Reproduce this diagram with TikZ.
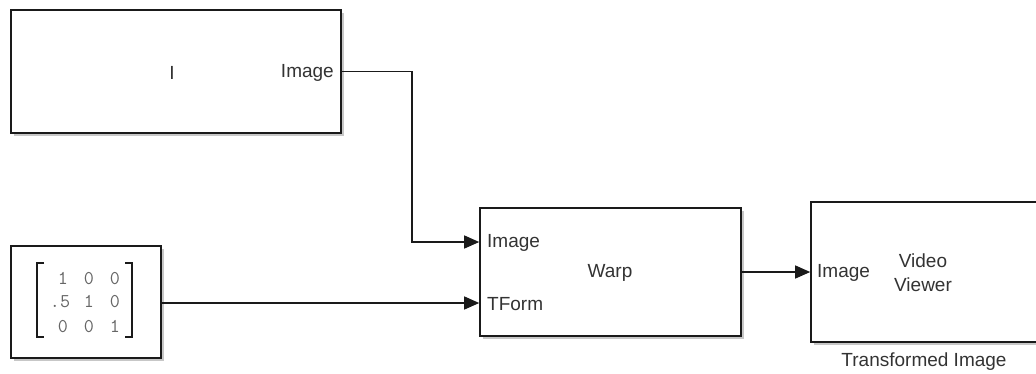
\documentclass[tikz,border=0pt]{standalone}
\usepackage{fontspec}
\setmainfont{Liberation Sans}
\usetikzlibrary{arrows.meta,shadows,calc}
\definecolor{txt}{HTML}{333333}
\definecolor{mtx}{HTML}{666666}
\definecolor{edge}{HTML}{1A1A1A}
\begin{document}
\begin{tikzpicture}[x=1pt,y=-1pt,
  blk/.style={draw=edge,line width=1.6pt,fill=white,inner sep=0pt,
    drop shadow={shadow xshift=2.5pt,shadow yshift=-2.5pt,opacity=0.4,fill=black!55}},
  lbl/.style={text=txt,inner sep=0pt,font=\fontsize{19}{24}\selectfont},
  dig/.style={text=mtx,inner sep=0pt,anchor=base,font=\ttfamily\fontsize{19.5}{24}\selectfont},
  wire/.style={draw=edge,line width=1.3pt},
  arr/.style={wire,-{Triangle[length=15pt,width=13pt]}},
  brk/.style={draw=edge,line width=1.8pt}
]
\useasboundingbox (0,0) rectangle (1036,373);
% blocks
\node[blk,minimum width=330pt,minimum height=123pt] (src) at (176,71.5) {};
\node[blk,minimum width=150pt,minimum height=112pt] (mat) at (86,302) {};
\node[blk,minimum width=261pt,minimum height=128pt] (warp) at (610.5,272) {};
\node[blk,minimum width=240pt,minimum height=140pt] (view) at (931,272) {};
% texts in source
\node[lbl] (srcI) at (172,73) {I};
\node[lbl,anchor=east] (srcImg) at (334,73) {Image};
% matrix digits
\node[dig] (m11) at (63,284) {1};
\node[dig] (m12) at (89,284) {0};
\node[dig] (m13) at (115,284) {0};
\node[dig] (m21) at (60,307) {.5};
\node[dig] (m22) at (89,307) {1};
\node[dig] (m23) at (115,307) {0};
\node[dig] (m31) at (63,332) {0};
\node[dig] (m32) at (89,332) {0};
\node[dig] (m33) at (115,332) {1};
\coordinate (lbT) at (37,263);
\coordinate (lbB) at (37,337);
\coordinate (rbT) at (132,263);
\coordinate (rbB) at (132,337);
\draw[brk] ($(lbT)+(7,0)$) -- (lbT) -- (lbB) -- ($(lbB)+(7,0)$);
\draw[brk] ($(rbT)+(-7,0)$) -- (rbT) -- (rbB) -- ($(rbB)+(-7,0)$);
% warp texts
\node[lbl] (warpT) at (610,273) {Warp};
\node[lbl,anchor=west] (wImg) at (487,243) {Image};
\node[lbl,anchor=west] (wTf) at (487,304) {TForm};
% viewer texts
\node[lbl,align=center] (vT) at (923,273) {Video\\Viewer};
\node[lbl,anchor=west] (vImg) at (817,273) {Image};
\node[lbl] (vCap) at (924,362) {Transformed Image};
% ports
\coordinate (wIn1) at (warp.west |- 0,242);
\coordinate (wIn2) at (warp.west |- 0,303);
\coordinate (bend) at (412,71.5);
% connectors
\draw[arr] (src.east) -- (bend) |- (wIn1);
\draw[arr] (mat.east |- 0,303) -- (wIn2);
\draw[arr] (warp.east) -- (view.west);
\end{tikzpicture}
\end{document}
